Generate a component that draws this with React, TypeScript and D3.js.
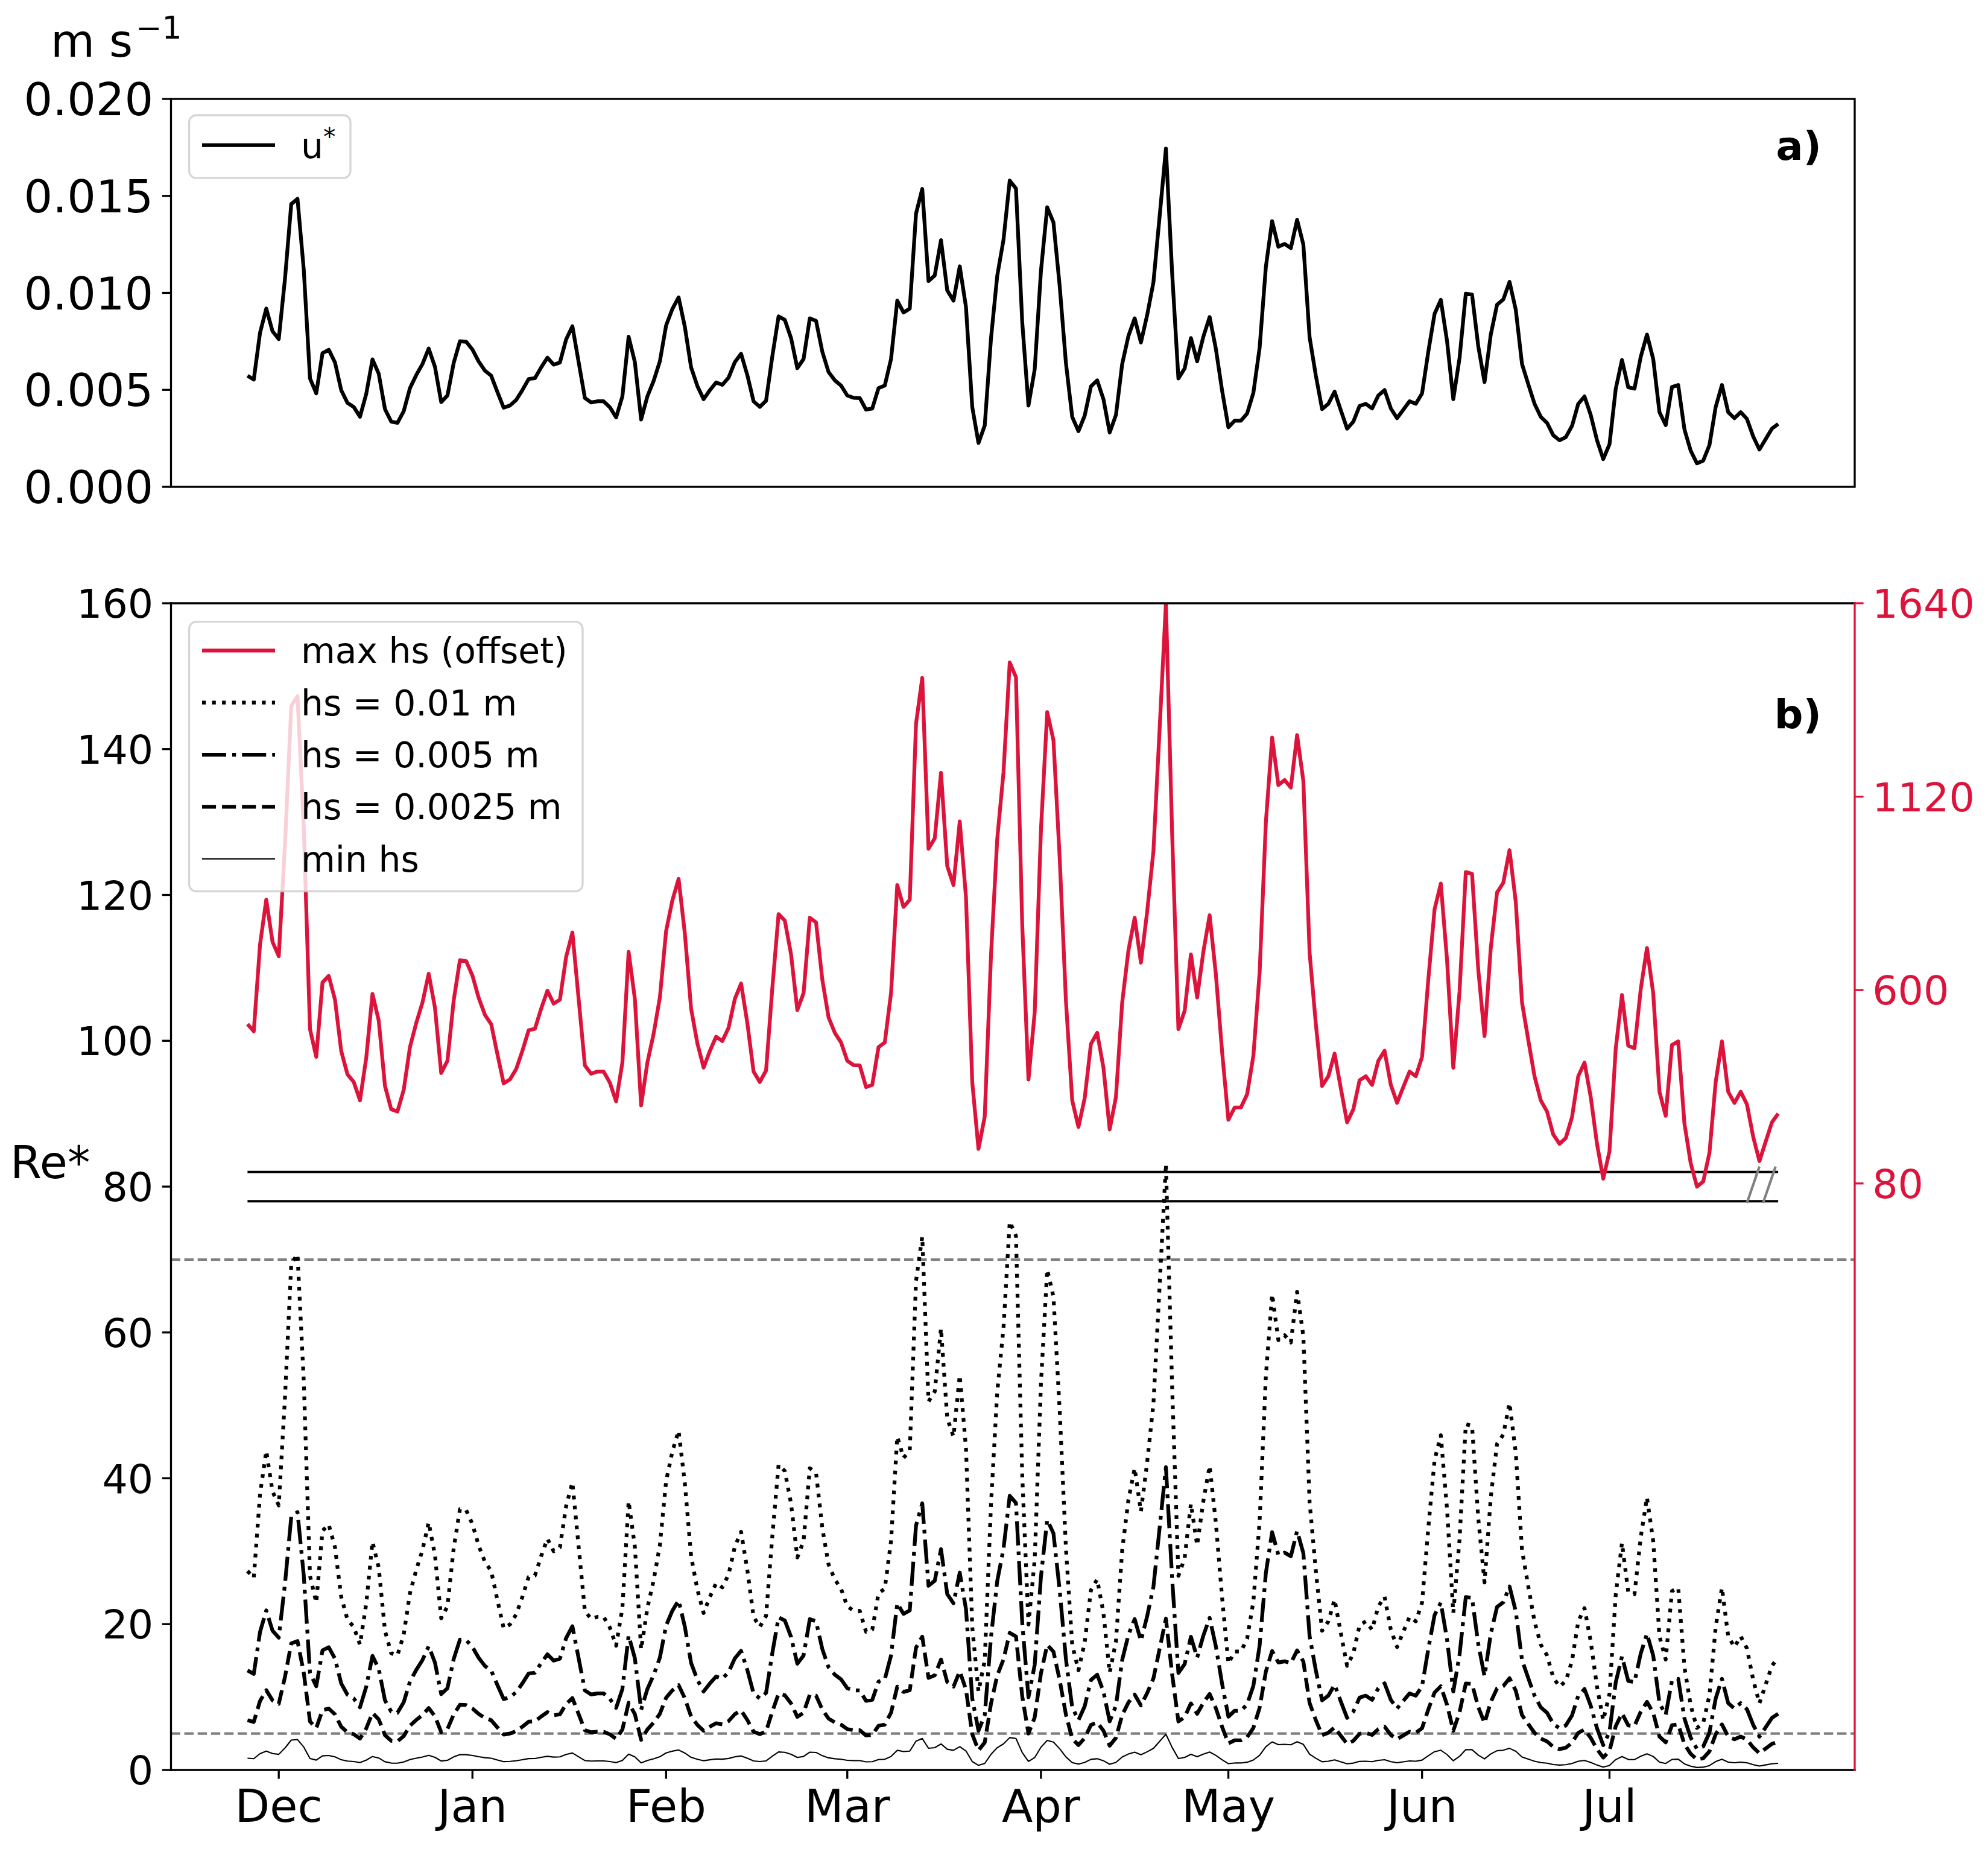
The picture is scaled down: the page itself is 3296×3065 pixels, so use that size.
import * as d3 from 'd3'
import React from 'react'

// daily friction velocity u* (m/s), 26 Nov 2019 -> 28 Jul 2020
const uStar = [
  0.00573, 0.00553, 0.00794, 0.00919, 0.00802,
  0.00762, 0.01074, 0.01458, 0.01485, 0.01121, 0.00559, 0.00482, 0.00689, 0.00707, 0.00641,
  0.00498, 0.00433, 0.00412, 0.00361, 0.00479, 0.00657, 0.00583, 0.00401, 0.00336, 0.0033,
  0.0039, 0.00509, 0.00576, 0.00633, 0.00713, 0.00619, 0.00437, 0.00471, 0.00639, 0.00751, 0.00748,
  0.00708, 0.00646, 0.00599, 0.00573, 0.00489, 0.00408, 0.00419, 0.00448, 0.00499, 0.00556,
  0.0056, 0.00616, 0.00666, 0.0063, 0.00641, 0.0076, 0.00828, 0.00643, 0.00458, 0.00435,
  0.00441, 0.00441, 0.0041, 0.00358, 0.00466, 0.00774, 0.00643, 0.00347, 0.00466, 0.00546,
  0.00647, 0.00832, 0.00917, 0.00977, 0.00825, 0.00616, 0.0052, 0.00452, 0.00498, 0.00538,
  0.00526, 0.00563, 0.00643, 0.00686, 0.00576, 0.00441, 0.00412, 0.00444, 0.00673, 0.00879,
  0.00861, 0.00767, 0.00612, 0.00659, 0.00869, 0.00856, 0.00697, 0.00592, 0.00549, 0.00522,
  0.00471, 0.00459, 0.00458, 0.00398, 0.00404, 0.00509, 0.00522, 0.00659, 0.0096, 0.00899,
  0.00919, 0.01408, 0.01536, 0.01061, 0.0109, 0.01272, 0.01013, 0.0096, 0.01137, 0.00926,
  0.00412, 0.00226, 0.00316, 0.00764, 0.01088, 0.01273, 0.01579, 0.01538, 0.0085, 0.00419,
  0.00606, 0.01114, 0.01441, 0.01363, 0.01034, 0.00637, 0.00361, 0.00287, 0.00367, 0.00518,
  0.00549, 0.00452, 0.0028, 0.0037, 0.00633, 0.00778, 0.00869, 0.00744, 0.00886, 0.01054,
  0.01397, 0.01744, 0.01101, 0.00559, 0.0061, 0.00767, 0.00647, 0.00775, 0.00876, 0.00711,
  0.00495, 0.00307, 0.00341, 0.00341, 0.00378, 0.00485, 0.00717, 0.01135, 0.0137, 0.01238,
  0.01252, 0.01231, 0.01377, 0.01249, 0.00771, 0.00573, 0.00401, 0.00428, 0.00491, 0.00394,
  0.003, 0.00336, 0.00417, 0.00428, 0.00404, 0.00471, 0.00499, 0.00404, 0.00354, 0.00398,
  0.00441, 0.00428, 0.00482, 0.00697, 0.00892, 0.00964, 0.00751, 0.00452, 0.00664, 0.00996,
  0.00991, 0.00724, 0.0054, 0.00785, 0.00939, 0.00966, 0.01057, 0.00913, 0.00633, 0.00529,
  0.00428, 0.00361, 0.0033, 0.00266, 0.0024, 0.00256, 0.00314, 0.00428, 0.00466, 0.0037,
  0.0024, 0.00143, 0.00219, 0.00505, 0.00654, 0.00513, 0.00506, 0.0067, 0.00785, 0.00659,
  0.00385, 0.00318, 0.00515, 0.00525, 0.00296, 0.00186, 0.00121, 0.00135, 0.00215, 0.00412,
  0.00525, 0.00385, 0.00354, 0.00385, 0.0035, 0.0026, 0.00192, 0.00246, 0.003, 0.00324,
]
const firstDay = Date.UTC(2019, 10, 26)

// Re* = u* hs / nu
const nu = 2.1e-6
const hsMax = 0.203
const maxOffset = 45.5 // subtracted from the max hs curve before plotting on the right axis
const hsMin = 0.00059
const hsLevels = [0.01, 0.005, 0.0025]
const hsLabels = ['hs = 0.01 m', 'hs = 0.005 m', 'hs = 0.0025 m']

const uTicks = [0, 0.005, 0.01, 0.015, 0.02]
const reTicks = [0, 20, 40, 60, 80, 100, 120, 140, 160]
const offsetTicks = [80, 600, 1120, 1640]
const offsetDomain = [-1497, 1640]
const refLevels = [70, 5]
const breakLevels = [78, 82]
// days before the last sample where the "//" marks sit
const breakMarks = [[-5, -3], [-2.4, -0.4]]

const W = 3296, H = 3065
const L = 283.5, R = 3075
const topY = [164, 807]
const botY = [1000, 2934]
const red = '#dc143c'
const font = 'DejaVu Sans'
const lw = 6.25
const spineW = 3.33
const tickLen = 14.6
const dashes = ['6.25 10.3', '40 10 6.25 10', '23.1 10']

const App = () => {
  const t0 = new Date(firstDay)
  const dates = uStar.map((_, i) => d3.utcDay.offset(t0, i))
  const t1 = dates[dates.length - 1]
  const pad = 0.05 * (+t1 - +t0)
  const x = d3.scaleUtc().domain([new Date(+t0 - pad), new Date(+t1 + pad)]).range([L, R])
  const yU = d3.scaleLinear().domain([0, 0.02]).range([topY[1], topY[0]])
  const yRe = d3.scaleLinear().domain([0, 160]).range([botY[1], botY[0]])
  const yOff = d3.scaleLinear().domain(offsetDomain).range([botY[1], botY[0]])
  const months = d3.utcMonth.range(d3.utcMonth.ceil(t0), t1)
  const fmtMonth = d3.utcFormat('%b')

  const lineU = d3.line<number>().x((_, i) => x(dates[i])).y(d => yU(d))
  const lineRe = (hs: number) => d3.line<number>().x((_, i) => x(dates[i])).y(d => yRe(d * hs / nu))
  const lineMax = d3.line<number>().x((_, i) => x(dates[i])).y(d => yOff(d * hsMax / nu - maxOffset))
  const atDay = (d: number) => x(d3.utcHour.offset(t1, d * 24))

  const legendRows = [
    { label: 'max hs (offset)', color: red, w: lw, dash: undefined },
    ...hsLabels.map((label, i) => ({ label, color: '#000', w: lw, dash: dashes[i] })),
    { label: 'min hs', color: '#000', w: 2.1, dash: undefined },
  ]

  return (
    <svg width={W} height={H} viewBox={`0 0 ${W} ${H}`} style={{ position: 'absolute', left: 0, top: 0, background: '#fff' }} fontFamily={font}>
      <defs>
        <clipPath id="clipTop"><rect x={L} y={topY[0]} width={R - L} height={topY[1] - topY[0]} /></clipPath>
        <clipPath id="clipBot"><rect x={L} y={botY[0]} width={R - L} height={botY[1] - botY[0]} /></clipPath>
      </defs>
      <rect width={W} height={H} fill="#fff" />

      {/* panel a */}
      <text x={84} y={94} fontSize={75}>m s</text>
      <text x={225} y={64} fontSize={52}>−1</text>
      <path d={lineU(uStar) || ''} fill="none" stroke="#000" strokeWidth={lw} strokeLinejoin="round" clipPath="url(#clipTop)" />
      <rect x={L} y={topY[0]} width={R - L} height={topY[1] - topY[0]} fill="none" stroke="#000" strokeWidth={spineW} />
      {uTicks.map(t => (
        <g key={t}>
          <line x1={L - tickLen} x2={L} y1={yU(t)} y2={yU(t)} stroke="#000" strokeWidth={spineW} />
          <text x={L - 2 * tickLen} y={yU(t) + 27} fontSize={75} textAnchor="end">{d3.format('.3f')(t)}</text>
        </g>
      ))}
      <g>
        <rect x={313.6} y={191} width={267.4} height={104} rx={11.7} fill="#fff" fillOpacity={0.8} stroke="#cccccc" strokeOpacity={0.8} strokeWidth={3.3} />
        <line x1={335} x2={456} y1={240.7} y2={240.7} stroke="#000" strokeWidth={lw} />
        <text x={499} y={262} fontSize={58.3}>u<tspan dy={-21} fontSize={41}>*</tspan></text>
      </g>
      <text x={3020} y={265} fontSize={66.7} fontWeight="bold" textAnchor="end">a)</text>

      {/* panel b */}
      <g clipPath="url(#clipBot)">
        {refLevels.map(v => (
          <line key={v} x1={L} x2={R} y1={yRe(v)} y2={yRe(v)} stroke="#808080" strokeWidth={4.17} strokeDasharray="15.4 6.7" />
        ))}
        {breakLevels.map(v => (
          <line key={v} x1={x(t0)} x2={x(t1)} y1={yRe(v)} y2={yRe(v)} stroke="#000" strokeWidth={4} />
        ))}
        {breakMarks.map(([a, b], i) => (
          <line key={i} x1={atDay(a)} x2={atDay(b)} y1={yRe(breakLevels[0] - 0.25)} y2={yRe(breakLevels[1] + 0.75)} stroke="#808080" strokeWidth={4.17} />
        ))}
        <path d={lineMax(uStar) || ''} fill="none" stroke={red} strokeWidth={lw} strokeLinejoin="round" />
        {hsLevels.map((hs, i) => (
          <path key={hs} d={lineRe(hs)(uStar) || ''} fill="none" stroke="#000" strokeWidth={lw} strokeDasharray={dashes[i]} strokeLinejoin="round" />
        ))}
        <path d={lineRe(hsMin)(uStar) || ''} fill="none" stroke="#000" strokeWidth={2.1} strokeLinejoin="round" />
      </g>
      <line x1={L} x2={L} y1={botY[0]} y2={botY[1]} stroke="#000" strokeWidth={spineW} strokeLinecap="square" />
      <line x1={L} x2={R} y1={botY[0]} y2={botY[0]} stroke="#000" strokeWidth={spineW} strokeLinecap="square" />
      <line x1={L} x2={R} y1={botY[1]} y2={botY[1]} stroke="#000" strokeWidth={spineW} strokeLinecap="square" />
      <line x1={R} x2={R} y1={botY[0]} y2={botY[1]} stroke={red} strokeWidth={spineW} strokeLinecap="square" />
      {reTicks.map(t => (
        <g key={t}>
          <line x1={L - tickLen} x2={L} y1={yRe(t)} y2={yRe(t)} stroke="#000" strokeWidth={spineW} />
          <text x={L - 2 * tickLen} y={yRe(t) + 24} fontSize={66.7} textAnchor="end">{t}</text>
        </g>
      ))}
      {offsetTicks.map(t => (
        <g key={t}>
          <line x1={R} x2={R + tickLen} y1={yOff(t)} y2={yOff(t)} stroke={red} strokeWidth={spineW} />
          <text x={R + 2 * tickLen} y={yOff(t) + 24} fontSize={66.7} fill={red}>{t}</text>
        </g>
      ))}
      {months.map(m => (
        <g key={+m}>
          <line x1={x(m)} x2={x(m)} y1={botY[1]} y2={botY[1] + tickLen} stroke="#000" strokeWidth={spineW} />
          <text x={x(m)} y={3020} fontSize={75} textAnchor="middle">{fmtMonth(m)}</text>
        </g>
      ))}
      <text x={17} y={1953} fontSize={75}>Re*</text>
      <text x={3020} y={1207} fontSize={66.7} fontWeight="bold" textAnchor="end">b)</text>

      <g>
        <rect x={313.6} y={1030.7} width={652.4} height={446.8} rx={11.7} fill="#fff" fillOpacity={0.8} stroke="#cccccc" strokeOpacity={0.8} strokeWidth={3.3} />
        {legendRows.map((r, i) => {
          const y = 1078.4 + i * 86.3
          return (
            <g key={r.label}>
              <line x1={335} x2={456} y1={y} y2={y} stroke={r.color} strokeWidth={r.w} strokeDasharray={r.dash} />
              <text x={499} y={y + 21} fontSize={58.3}>{r.label}</text>
            </g>
          )
        })}
      </g>
    </svg>
  )
}

export default App
